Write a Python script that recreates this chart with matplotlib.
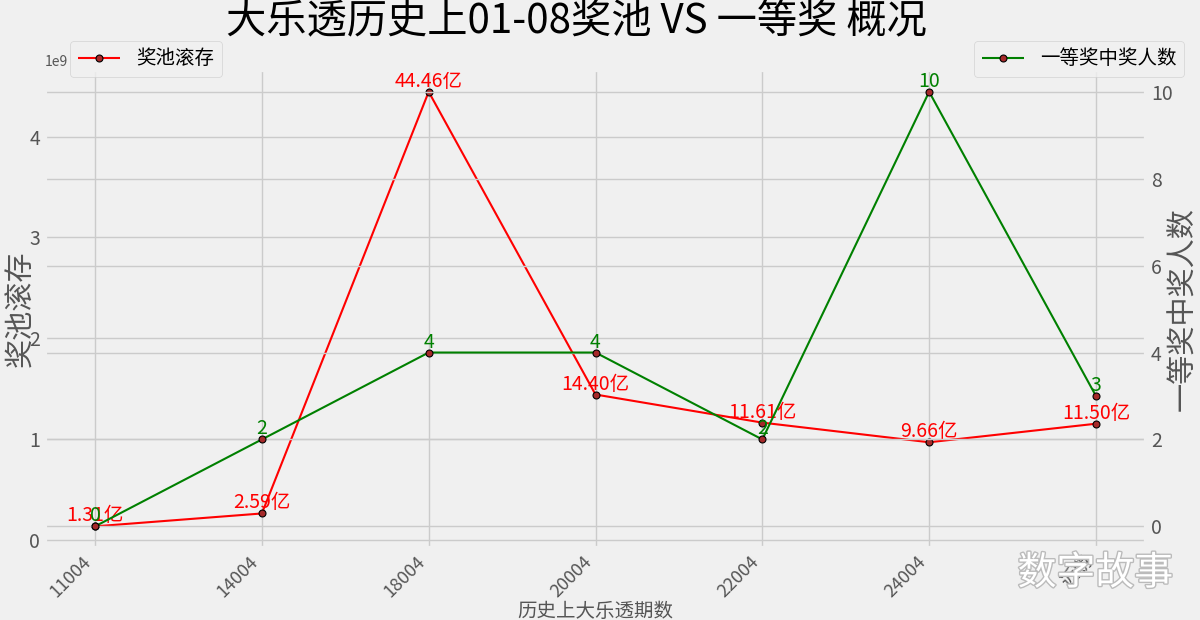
"""大乐透历史上01-08奖池 VS 一等奖 概况 - dual axis line chart."""

import matplotlib
matplotlib.use("Agg")
import matplotlib.pyplot as plt
import matplotlib.patheffects as pe

periods = ["11004", "14004", "18004", "20004", "22004", "24004", "近期"]
pool = [1.31e8, 2.59e8, 44.46e8, 14.40e8, 11.61e8, 9.66e8, 11.50e8]
pool_labels = ["1.31亿", "2.59亿", "44.46亿", "14.40亿", "11.61亿", "9.66亿", "11.50亿"]
winners = [0, 2, 4, 4, 2, 10, 3]

plt.style.use("fivethirtyeight")
plt.rcParams["font.family"] = ["Noto Sans CJK SC", "DejaVu Sans"]
plt.rcParams["axes.unicode_minus"] = False

fig, ax = plt.subplots(figsize=(12, 6.2), dpi=100)
fig.subplots_adjust(left=0.0375, right=0.955, bottom=0.116, top=0.887)

x = list(range(len(periods)))
marker_kw = dict(marker="o", markersize=5, markerfacecolor="#a52a2a",
                 markeredgecolor="black", markeredgewidth=0.8)

l1, = ax.plot(x, pool, color="red", linewidth=1.5, label="奖池滚存", **marker_kw)
for xi, v, lab in zip(x, pool, pool_labels):
    ax.text(xi, v, lab, color="red", fontsize=14, ha="center", va="bottom")

ax2 = ax.twinx()
l2, = ax2.plot(x, winners, color="green", linewidth=1.5, label="一等奖中奖人数", **marker_kw)
for xi, v in zip(x, winners):
    ax2.text(xi, v, str(v), color="green", fontsize=14, ha="center", va="bottom")

ax.set_xticks(x)
ax.set_xticklabels(periods, rotation=45, ha="right", fontsize=13, color="#555555")
ax.tick_params(axis="y", labelsize=14, labelcolor="#555555")
ax2.tick_params(axis="y", labelsize=14, labelcolor="#555555")
ax.yaxis.get_offset_text().set_fontsize(10)
ax.yaxis.get_offset_text().set_color("#555555")

ax.set_xlabel("历史上大乐透期数", fontsize=14, color="#555555", labelpad=0)
ax.set_ylabel("奖池滚存", fontsize=21, color="#555555")
ax2.set_ylabel("一等奖中奖人数", fontsize=21, color="#555555")
ax.yaxis.set_label_coords(-0.008, 0.5)
ax2.yaxis.set_label_coords(1.02, 0.5)
ax2.grid(True)

fig.suptitle("大乐透历史上01-08奖池 VS 一等奖 概况", fontsize=29, x=0.48, y=1.0)

fig.legend(handles=[l1], loc="upper left", bbox_to_anchor=(0.05, 0.95),
           fontsize=14, frameon=True, handlelength=2.2)
fig.legend(handles=[l2], loc="upper right", bbox_to_anchor=(0.995, 0.95),
           fontsize=14, frameon=True, handlelength=2.2)

fig.text(0.848, 0.075, "数字故事", fontsize=28, color="white", ha="left", va="center",
         path_effects=[pe.withStroke(linewidth=2, foreground="#bbbbbb")])

fig.savefig("out.png", dpi=100)
